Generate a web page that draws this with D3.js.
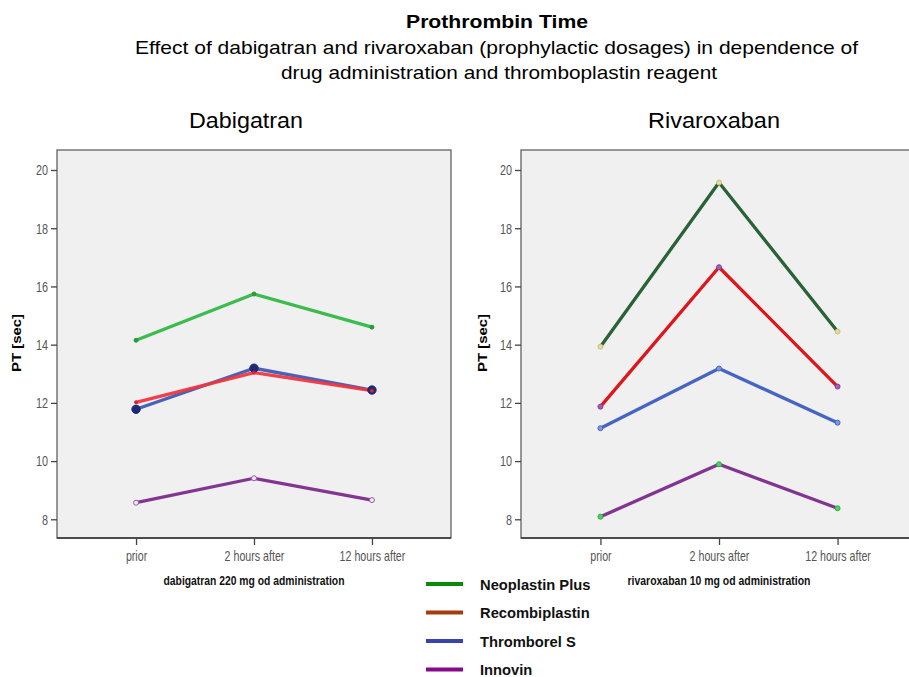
<!DOCTYPE html>
<html><head><meta charset="utf-8">
<script src="https://cdn.jsdelivr.net/npm/d3@7"></script>
<style>
body{margin:0;background:#fff;}
text{font-family:"Liberation Sans",Arial,sans-serif;}
</style></head>
<body><svg id="c" width="909" height="677"></svg>
<script>
const categories = ["prior", "2 hours after", "12 hours after"];
const reagents = ["Neoplastin Plus", "Recombiplastin", "Thromborel S", "Innovin"];
const yTicks = [8, 10, 12, 14, 16, 18, 20];
// Dabigatran panel
const dabNeoplastin = [14.15, 15.74, 14.6];
const dabRecombiplastin = [12.02, 13.04, 12.42];
const dabThromborel = [11.78, 13.19, 12.44];
const dabInnovin = [8.57, 9.41, 8.66];
// Rivaroxaban panel
const rivNeoplastin = [13.93, 19.57, 14.45];
const rivRecombiplastin = [11.87, 16.66, 12.56];
const rivThromborel = [11.13, 13.18, 11.32];
const rivInnovin = [8.09, 9.89, 8.38];

const legendColors = ["#0a8a0a", "#a83a10", "#3a44a8", "#850a8a"];

const svg = d3.select("#c");

// squeeze/stretch text horizontally by factor or to a target width
function fitTo(sel, target) {
  sel.each(function() {
    this.setAttribute("textLength", target);
    this.setAttribute("lengthAdjust", "spacingAndGlyphs");
  });
}
function squeeze(sel, f) {
  sel.each(function() {
    const w = this.getComputedTextLength();
    this.setAttribute("textLength", w * f);
    this.setAttribute("lengthAdjust", "spacingAndGlyphs");
  });
}

// Titles
fitTo(svg.append("text").attr("x", 497).attr("y", 28).attr("text-anchor", "middle")
  .attr("font-weight", "bold").attr("font-size", 18.5).text("Prothrombin Time"), 182);
fitTo(svg.append("text").attr("x", 496.5).attr("y", 54).attr("text-anchor", "middle")
  .attr("font-size", 19).text("Effect of dabigatran and rivaroxaban (prophylactic dosages) in dependence of"), 723);
fitTo(svg.append("text").attr("x", 499).attr("y", 79).attr("text-anchor", "middle")
  .attr("font-size", 19).text("drug administration and thromboplastin reagent"), 436);

function panel(cfg) {
  const g = svg.append("g");
  const x = d3.scalePoint().domain(categories).range([cfg.left, cfg.right]).padding(0.67);
  const y = d3.scaleLinear().domain([8, 20]).range([519.3, 170]);
  const top = 150, bottom = 538;

  fitTo(g.append("text").attr("x", cfg.titleX).attr("y", 128).attr("text-anchor", "middle")
    .attr("font-size", 22).text(cfg.title), cfg.titleW);

  g.append("rect").attr("x", cfg.left).attr("y", top).attr("width", cfg.right - cfg.left).attr("height", bottom - top)
    .attr("fill", "#f0f0f0").attr("stroke", "#555").attr("stroke-width", 1.2);
  g.append("line").attr("x1", cfg.left).attr("x2", cfg.right).attr("y1", bottom).attr("y2", bottom)
    .attr("stroke", "#333").attr("stroke-width", 1.6);

  const ya = g.append("g").attr("transform", `translate(${cfg.left},0)`)
    .call(d3.axisLeft(y).tickValues(yTicks).tickSize(6).tickPadding(3).tickFormat(d3.format("d")));
  ya.select(".domain").remove();
  ya.selectAll("line").attr("stroke", "#444").attr("stroke-width", 1.3);
  ya.selectAll("text").attr("font-size", 15).attr("fill", "#555").attr("font-family", "Liberation Sans, Arial, sans-serif");
  squeeze(ya.selectAll("text"), 0.72);

  const xa = g.append("g").attr("transform", `translate(0,${bottom})`)
    .call(d3.axisBottom(x).tickSize(7).tickPadding(5));
  xa.select(".domain").remove();
  xa.selectAll("line").attr("stroke", "#444").attr("stroke-width", 1.3);
  xa.selectAll("text").attr("font-size", 15).attr("fill", "#555").attr("font-family", "Liberation Sans, Arial, sans-serif");
  squeeze(xa.selectAll("text"), 0.71);

  fitTo(g.append("text").attr("transform", `translate(${cfg.ylabX},343) rotate(-90)`).attr("text-anchor", "middle")
    .attr("font-weight", "bold").attr("font-size", 12.5).text(cfg.ylab), 58);
  fitTo(g.append("text").attr("x", cfg.xlabX).attr("y", 585).attr("text-anchor", "middle")
    .attr("font-weight", "bold").attr("font-size", 12.5).attr("fill", "#111")
    .text(cfg.xlab), cfg.xlabW);

  const line = d3.line().x((d, i) => x(categories[i])).y(d => y(d));
  cfg.series.forEach(s => {
    g.append("path").datum(s.values).attr("d", line).attr("fill", "none")
      .attr("stroke", s.color).attr("stroke-width", 3.3).attr("stroke-linejoin", "round").attr("opacity", 0.95);
  });
  cfg.series.forEach(s => {
    s.values.forEach((v, i) => {
      g.append("circle").attr("cx", x(categories[i])).attr("cy", y(v)).attr("r", s.r)
        .attr("fill", s.mfill).attr("stroke", s.mstroke).attr("stroke-width", 1);
    });
  });
}

panel({
  title: "Dabigatran", titleX: 246, titleW: 114, left: 57, right: 451, ylabX: 21, xlabX: 254, xlabW: 181,
  ylab: "PT  [sec]", xlab: "dabigatran 220 mg od administration",
  series: [
    {values: dabNeoplastin, color: "#33b844", r: 2, mfill: "#2a9a3a", mstroke: "#2a9a3a"},
    {values: dabInnovin, color: "#7c2a8c", r: 2.5, mfill: "#f4e8f4", mstroke: "#9a5aa8"},
    {values: dabThromborel, color: "#4058b4", r: 4.2, mfill: "#1c2a78", mstroke: "#1c2a78"},
    {values: dabRecombiplastin, color: "#f0363f", r: 1.5, mfill: "#e02030", mstroke: "#e02030"}
  ]
});

panel({
  title: "Rivaroxaban", titleX: 714, titleW: 132, left: 521, right: 917, ylabX: 487, xlabX: 719, xlabW: 183,
  ylab: "PT [sec]", xlab: "rivaroxaban 10 mg od administration",
  series: [
    {values: rivNeoplastin, color: "#1d5a2c", r: 2.5, mfill: "#e0dca0", mstroke: "#c8c080"},
    {values: rivRecombiplastin, color: "#dc0a10", r: 2.5, mfill: "#a060b0", mstroke: "#8a3c9a"},
    {values: rivThromborel, color: "#3c5cc0", r: 2.5, mfill: "#8098d8", mstroke: "#4a64c0"},
    {values: rivInnovin, color: "#7a2a8a", r: 2.5, mfill: "#50d060", mstroke: "#30b040"}
  ]
});

// Legend
const lg = svg.append("g");
reagents.forEach((r, i) => {
  const yy = 584 + i * 28.5;
  lg.append("line").attr("x1", 426).attr("x2", 463).attr("y1", yy).attr("y2", yy)
    .attr("stroke", legendColors[i]).attr("stroke-width", 4);
  const t = lg.append("text").attr("x", 480).attr("y", yy + 5.5)
    .attr("font-weight", "bold").attr("font-size", 15.5).attr("fill", "#111").text(r);
  squeeze(t, 0.95);
});
</script></body></html>
